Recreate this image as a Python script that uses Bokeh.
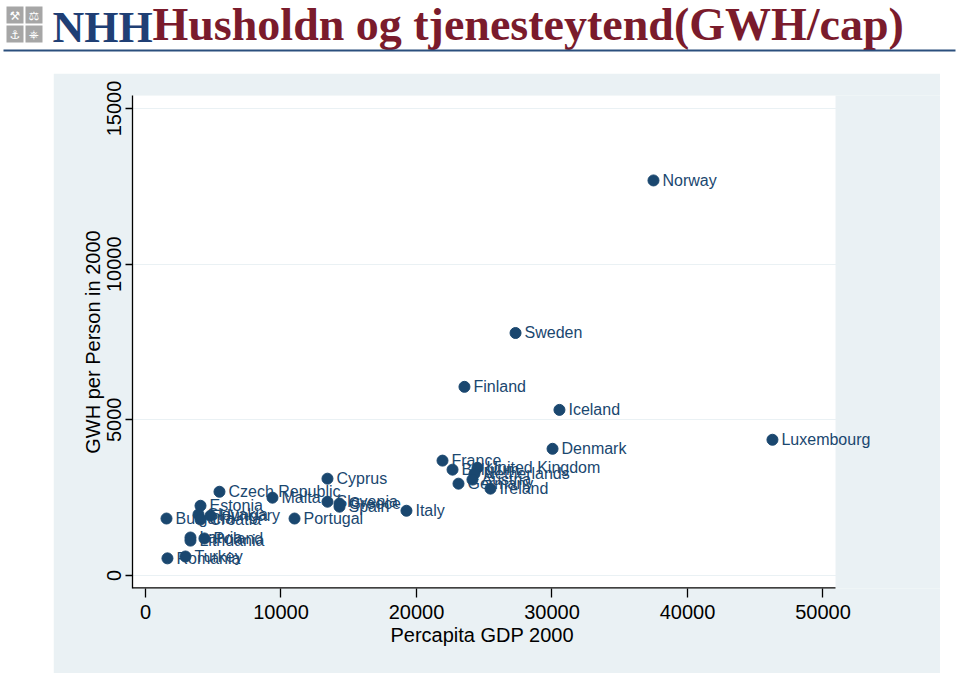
from bokeh.plotting import figure
from bokeh.models import (ColumnDataSource, Range1d, FixedTicker, Spacer, LabelSet,
                          BoxAnnotation, Title)
from bokeh.layouts import column, row
from bokeh.core.properties import value
from bokeh.embed import file_html
from bokeh.resources import INLINE

# ---------------- data ----------------
countries = ["Norway", "Sweden", "Finland", "Iceland", "Denmark", "Luxembourg",
             "France", "Belgium", "United Kingdom", "Netherlands", "Austria",
             "Germany", "Ireland", "Italy", "Spain", "Greece", "Slovenia", "Malta",
             "Cyprus", "Czech Republic", "Portugal", "Estonia", "Slovakia",
             "Hungary", "Croatia", "Bulgaria", "Latvia", "Lithuania", "Poland",
             "Turkey", "Romania"]
gdp_2000 = [37490, 27310, 23540, 30550, 30040, 46270,
            21920, 22660, 24500, 24280, 24130,
            23100, 25460, 19260, 14320, 14320, 13430, 9370,
            13430, 5460, 11000, 4060, 3910,
            4800, 4060, 1550, 3320, 3320, 4350,
            2950, 1620]
gwh_per_person = [12690, 7790, 6060, 5320, 4070, 4360,
                  3690, 3400, 3460, 3270, 3080,
                  2950, 2790, 2080, 2210, 2310, 2370, 2500,
                  3110, 2690, 1830, 2240, 1960,
                  1920, 1800, 1830, 1220, 1120, 1190,
                  610, 550]
x_ticks = [0, 10000, 20000, 30000, 40000, 50000]
y_ticks = [0, 5000, 10000, 15000]

title_text = "Husholdn og tjenesteytend(GWH/cap)"
logo_text = "NHH"
x_title = "Percapita GDP 2000"
y_title = "GWH per Person in 2000"

NAVY = "#1a476f"
PANEL = "#eaf1f4"
FONT = "Liberation Sans"

# plot-region limits (white area) in data units
X_MIN, X_MAX = -959, 50923
Y_MIN, Y_MAX = -418, 15419
X_FRAME_MAX = 58672  # frame continues over the grey panel so labels are not clipped

# ---------------- header ----------------
hdr = figure(width=959, height=73, x_range=Range1d(0, 959), y_range=Range1d(73, 0),
             output_backend="svg", toolbar_location=None,
             x_axis_location=None, y_axis_location=None,
             min_border=0, min_border_left=0, min_border_right=0,
             min_border_top=0, min_border_bottom=0)
hdr.grid.visible = False
hdr.outline_line_color = None
hdr.background_fill_color = "white"
hdr.border_fill_color = "white"

# logo squares
sq_left = [6, 25, 6, 25]
sq_top = [6, 6, 25, 25]
hdr.quad(left=sq_left, right=[v + 17 for v in sq_left], top=sq_top,
         bottom=[v + 17 for v in sq_top], fill_color="#a6a6a6", line_color=None)
hdr.text(x=[v + 8.5 for v in sq_left], y=[v + 9 for v in sq_top],
         text=["\u2692", "\u2696", "\u2693", "\u2388"], text_align="center",
         text_baseline="middle", text_color="white", text_font_size="12px",
         text_font=value("DejaVu Sans"))
hdr.text(x=[52], y=[27], text=[logo_text], text_font=value("Liberation Serif"),
         text_font_style="bold", text_font_size="44px", text_color="#1f3f75",
         text_baseline="middle")
hdr.text(x=[152], y=[-2], text=[title_text], text_font=value("Liberation Serif"),
         text_font_style="bold", text_font_size="46px", text_color="#7a1b2c",
         text_baseline="top")
hdr.segment(x0=[3], y0=[50], x1=[955], y1=[50], line_color="#2b4f7d", line_width=2)

# ---------------- main chart ----------------
src = ColumnDataSource(dict(name=countries, gdp=gdp_2000, gwh=gwh_per_person))

p = figure(width=887, height=600,
           x_range=Range1d(X_MIN, X_FRAME_MAX), y_range=Range1d(Y_MIN, Y_MAX),
           output_backend="svg", toolbar_location=None,
           min_border_left=79, min_border_right=0,
           min_border_top=22, min_border_bottom=85)
p.background_fill_color = PANEL
p.border_fill_color = PANEL
p.outline_line_color = None

# white plot region
p.add_layout(BoxAnnotation(right=X_MAX, fill_color="white", fill_alpha=1,
                           line_color=None, level="image"))
# x axis line limited to the plot region
p.segment(x0=[X_MIN], y0=[Y_MIN], x1=[X_MAX], y1=[Y_MIN], line_color="black",
          line_width=2.6)

p.scatter(x="gdp", y="gwh", source=src, size=11, fill_color=NAVY, line_color=NAVY)
labels = LabelSet(x="gdp", y="gwh", text="name", source=src, x_offset=9,
                  text_baseline="middle", text_font=value(FONT),
                  text_font_size="16px", text_color=NAVY)
p.add_layout(labels)

p.xgrid.visible = False
p.ygrid.ticker = FixedTicker(ticks=y_ticks)
p.ygrid.grid_line_color = PANEL
p.ygrid.grid_line_width = 1

p.xaxis.ticker = FixedTicker(ticks=x_ticks)
p.yaxis.ticker = FixedTicker(ticks=y_ticks)
for ax in (p.xaxis[0], p.yaxis[0]):
    ax.axis_line_color = "black"
    ax.axis_line_width = 1.3
    ax.major_tick_line_color = "black"
    ax.major_tick_line_width = 1.3
    ax.major_tick_in = 0
    ax.minor_tick_line_color = None
    ax.major_label_text_font = FONT
    ax.major_label_text_font_size = "20px"
    ax.major_label_text_color = "black"
    ax.axis_label_text_font = FONT
    ax.axis_label_text_font_size = "20px"
    ax.axis_label_text_font_style = "normal"
    ax.axis_label_text_color = "black"

p.xaxis.axis_line_color = None
p.xaxis.major_tick_out = 9
p.xaxis.major_label_standoff = 7

# x-axis title centred on the white plot region (not the extended frame)
p.add_layout(Title(text=x_title, align="left", offset=258, standoff=0,
                   text_font=FONT, text_font_size="20px", text_font_style="normal",
                   text_color="black"), "below")

p.yaxis.major_tick_out = 7
p.yaxis.major_label_orientation = "vertical"
p.yaxis.major_label_standoff = 4
p.yaxis.axis_label = y_title
p.yaxis.axis_label_standoff = 1

layout = column(hdr, row(Spacer(width=53, height=600), p, Spacer(width=19, height=600)))

open("out.html", "w").write(file_html(layout, INLINE))
